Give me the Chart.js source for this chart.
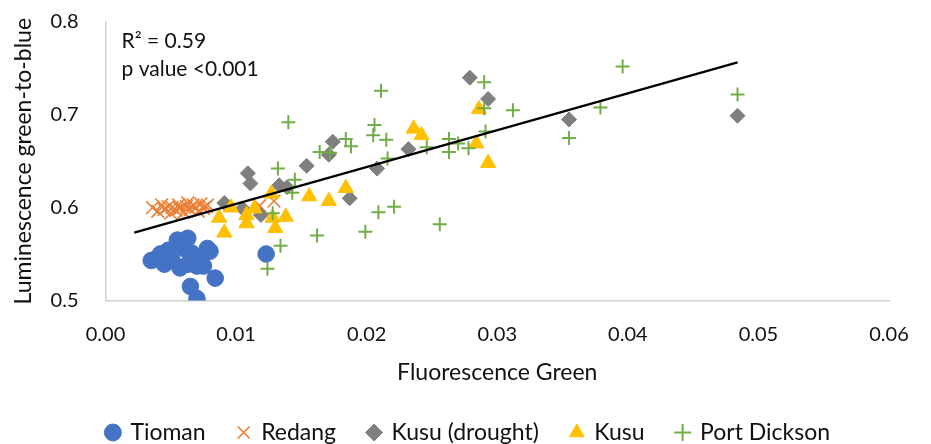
<!DOCTYPE html>
<html>
<head>
<meta charset="utf-8">
<script src="https://cdn.jsdelivr.net/npm/chart.js@4.4.1/dist/chart.umd.min.js"></script>
<style>
  html, body { margin: 0; padding: 0; background: #ffffff; }
  #wrap { position: relative; width: 931px; height: 444px; }
  canvas { display: block; }
</style>
</head>
<body>
<div id="wrap"><canvas id="c" width="931" height="444"></canvas></div>
<script>
// ---- Data ----
const tiomanX = [0.0035, 0.0039, 0.0042, 0.0045, 0.0046, 0.0048, 0.0051, 0.0055, 0.0057, 0.0060, 0.0063, 0.0063, 0.0065, 0.0066, 0.0069, 0.0070, 0.0070, 0.0073, 0.0075, 0.0078, 0.0080, 0.0084, 0.0123];
const tiomanY = [0.543, 0.545, 0.550, 0.539, 0.548, 0.554, 0.543, 0.565, 0.535, 0.556, 0.567, 0.539, 0.515, 0.551, 0.543, 0.502, 0.537, 0.546, 0.537, 0.556, 0.553, 0.524, 0.550];

const redangX = [0.0036, 0.0040, 0.0043, 0.0045, 0.0048, 0.0050, 0.0051, 0.0054, 0.0056, 0.0057, 0.0060, 0.0062, 0.0063, 0.0065, 0.0067, 0.0069, 0.0071, 0.0073, 0.0075, 0.0077, 0.0078, 0.0118, 0.0129];
const redangY = [0.600, 0.596, 0.603, 0.598, 0.601, 0.594, 0.600, 0.597, 0.603, 0.599, 0.595, 0.601, 0.605, 0.598, 0.603, 0.600, 0.596, 0.604, 0.599, 0.601, 0.603, 0.602, 0.607];

const droughtX = [0.0091, 0.0105, 0.0109, 0.0111, 0.0119, 0.0133, 0.0139, 0.0154, 0.0171, 0.0174, 0.0187, 0.0208, 0.0232, 0.0279, 0.0293, 0.0355, 0.0484];
const droughtY = [0.605, 0.599, 0.637, 0.626, 0.592, 0.624, 0.622, 0.645, 0.657, 0.671, 0.610, 0.642, 0.663, 0.740, 0.717, 0.695, 0.699];

const kusuX = [0.0087, 0.0091, 0.0096, 0.0108, 0.0108, 0.0114, 0.0127, 0.0128, 0.0130, 0.0138, 0.0156, 0.0171, 0.0184, 0.0236, 0.0242, 0.0284, 0.0286, 0.0293];
const kusuY = [0.589, 0.573, 0.600, 0.592, 0.583, 0.599, 0.615, 0.589, 0.578, 0.590, 0.612, 0.607, 0.621, 0.685, 0.678, 0.669, 0.706, 0.648];

const dicksonX = [0.0124, 0.0128, 0.0132, 0.0134, 0.0140, 0.0143, 0.0145, 0.0162, 0.0164, 0.0172, 0.0184, 0.0188, 0.0199, 0.0205, 0.0206, 0.0209, 0.0211, 0.0215, 0.0216, 0.0221, 0.0246, 0.0256, 0.0263, 0.0263, 0.0270, 0.0278, 0.0290, 0.0290, 0.0291, 0.0312, 0.0355, 0.0379, 0.0396, 0.0484];
const dicksonY = [0.534, 0.594, 0.642, 0.559, 0.692, 0.616, 0.630, 0.570, 0.660, 0.659, 0.674, 0.666, 0.574, 0.678, 0.689, 0.595, 0.726, 0.673, 0.653, 0.601, 0.665, 0.582, 0.674, 0.660, 0.669, 0.664, 0.735, 0.707, 0.682, 0.705, 0.675, 0.708, 0.752, 0.722];

const trendX = [0.0022, 0.0484];
const trendY = [0.5730, 0.7565];

const xTicks = [0.00, 0.01, 0.02, 0.03, 0.04, 0.05, 0.06];
const yTicks = [0.5, 0.6, 0.7, 0.8];
const seriesNames = ['Tioman', 'Redang', 'Kusu (drought)', 'Kusu', 'Port Dickson'];
const annotationLines = ['R\u00B2 = 0.59', 'p value <0.001'];

// ---- Build ----
const pts = (xs, ys) => xs.map((x, i) => ({ x: x, y: ys[i] }));
const FONT = 'Lato, "Open Sans", sans-serif';
const TXT = '#111111';
const CLEAR = 'rgba(0,0,0,0)';

const annotationPlugin = {
  id: 'rsq',
  afterDraw(chart) {
    const ctx = chart.ctx;
    const xs = chart.scales.x, ys = chart.scales.y;
    ctx.save();
    ctx.fillStyle = TXT;
    ctx.font = '21px ' + FONT;
    ctx.textBaseline = 'middle';
    ctx.textAlign = 'left';
    const left = xs.left + 16;
    ctx.fillText(annotationLines[0], left, ys.top + 19);
    ctx.fillText(annotationLines[1], left, ys.top + 47);
    ctx.restore();
  }
};

new Chart(document.getElementById('c'), {
  type: 'scatter',
  data: {
    datasets: [
      { label: seriesNames[0], data: pts(tiomanX, tiomanY), pointStyle: 'circle', pointRadius: 8.3, pointHoverRadius: 8.3,
        backgroundColor: '#4472C4', borderColor: '#4472C4', borderWidth: 1, order: 6 },
      { label: seriesNames[1], data: pts(redangX, redangY), pointStyle: 'crossRot', pointRadius: 9, pointHoverRadius: 9,
        backgroundColor: '#ED7D31', borderColor: '#ED7D31', borderWidth: 1.6, order: 5 },
      { label: seriesNames[2], data: pts(droughtX, droughtY), pointStyle: 'rectRot', pointRadius: 7.5, pointHoverRadius: 7.5,
        backgroundColor: '#7F7F7F', borderColor: '#7F7F7F', borderWidth: 1, order: 4 },
      { label: seriesNames[3], data: pts(kusuX, kusuY), pointStyle: 'triangle', pointRadius: 8.8, pointHoverRadius: 8.8,
        backgroundColor: '#FFC000', borderColor: '#FFC000', borderWidth: 1, order: 3 },
      { label: seriesNames[4], data: pts(dicksonX, dicksonY), pointStyle: 'cross', pointRadius: 7, pointHoverRadius: 7,
        backgroundColor: '#70AD47', borderColor: '#70AD47', borderWidth: 2, order: 2 },
      { label: 'trend', data: pts(trendX, trendY), showLine: true, pointRadius: 0, pointHoverRadius: 0,
        borderColor: '#000000', borderWidth: 2.2, fill: false, order: 1 }
    ]
  },
  options: {
    responsive: false,
    animation: false,
    devicePixelRatio: 1,
    layout: { padding: { top: 22, right: 42, left: 48, bottom: -10 } },
    plugins: {
      tooltip: { enabled: false },
      legend: {
        position: 'bottom',
        labels: {
          usePointStyle: true,
          boxWidth: 12,
          boxHeight: 12,
          padding: 32,
          color: TXT,
          font: { family: FONT, size: 23 },
          filter: (item) => item.text !== 'trend',
          sort: (a, b) => a.datasetIndex - b.datasetIndex
        }
      }
    },
    scales: {
      x: {
        type: 'linear',
        min: 0, max: 0.06,
        afterBuildTicks: (axis) => { axis.ticks = xTicks.map(v => ({ value: v })); },
        ticks: {
          padding: 2,
          color: TXT,
          font: { family: FONT, size: 20 },
          callback: (v) => Number(v).toFixed(2)
        },
        grid: { display: true, drawOnChartArea: false, drawTicks: true, tickLength: 20, color: CLEAR, tickColor: CLEAR },
        border: { display: true, color: '#d0d0d0', width: 1.5 },
        title: { display: true, text: 'Fluorescence Green', color: TXT,
                 font: { family: FONT, size: 23 }, padding: { top: 10, bottom: 3 } }
      },
      y: {
        type: 'linear',
        min: 0.5, max: 0.8,
        afterBuildTicks: (axis) => { axis.ticks = yTicks.map(v => ({ value: v })); },
        ticks: {
          padding: 2,
          color: TXT,
          font: { family: FONT, size: 20 },
          callback: (v) => Number(v).toFixed(1)
        },
        grid: { display: true, drawOnChartArea: false, drawTicks: true, tickLength: 25, color: CLEAR, tickColor: CLEAR },
        border: { display: true, color: '#d0d0d0', width: 1.5 },
        title: { display: true, text: 'Luminescence green-to-blue', color: TXT,
                 font: { family: FONT, size: 23 }, padding: { top: -38, bottom: 11 } }
      }
    }
  },
  plugins: [annotationPlugin]
});
</script>
</body>
</html>
